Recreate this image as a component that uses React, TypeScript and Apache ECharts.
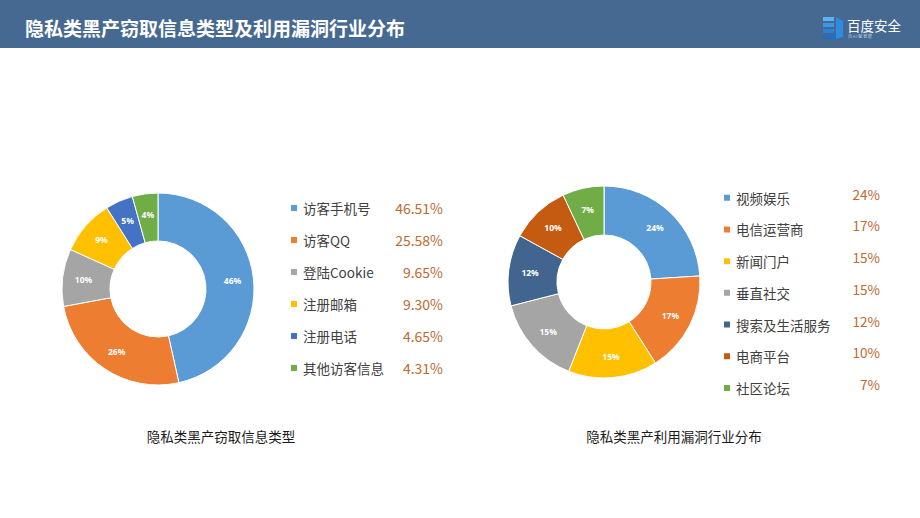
import React, { useEffect, useRef } from "react";
import * as echarts from "echarts";

const pageTitle = "隐私类黑产窃取信息类型及利用漏洞行业分布";

const leftCaption = "隐私类黑产窃取信息类型";
const leftNames = ["访客手机号", "访客QQ", "登陆Cookie", "注册邮箱", "注册电话", "其他访客信息"];
const leftValues = [46.51, 25.58, 9.65, 9.3, 4.65, 4.31];
const leftColors = ["#5b9bd5", "#ed7d31", "#a5a5a5", "#ffc000", "#4472c4", "#70ad47"];

const rightCaption = "隐私类黑产利用漏洞行业分布";
const rightNames = ["视频娱乐", "电信运营商", "新闻门户", "垂直社交", "搜索及生活服务", "电商平台", "社区论坛"];
const rightValues = [24, 17, 15, 15, 12, 10, 7];
const rightColors = ["#5b9bd5", "#ed7d31", "#ffc000", "#a5a5a5", "#41658f", "#c55a11", "#70ad47"];

const FONT = "'Noto Sans CJK SC', 'Noto Sans', sans-serif";

export default function App() {
  const ref = useRef<HTMLDivElement>(null);
  useEffect(() => {
    if (!ref.current) return;
    const chart = echarts.init(ref.current, undefined, { renderer: "svg" });

    const leftMap: Record<string, string> = {};
    leftNames.forEach((n, i) => (leftMap[n] = leftValues[i].toFixed(2) + "%"));
    const rightMap: Record<string, string> = {};
    rightNames.forEach((n, i) => (rightMap[n] = rightValues[i] + "%"));

    const pieLabel = {
      show: true,
      position: "inside",
      formatter: "{d}%",
      color: "#fff",
      fontSize: 8.5,
      fontWeight: "bold",
      fontFamily: "'Noto Sans', sans-serif",
    };

    chart.setOption({
      animation: false,
      backgroundColor: "#fff",
      title: [
        {
          text: pageTitle,
          left: 20,
          top: 13,
          textStyle: { color: "#fff", fontSize: 19, fontWeight: "bold", fontFamily: FONT },
        },
        {
          text: leftCaption,
          left: 216,
          top: 424,
          textAlign: "center",
          textStyle: { color: "#1a1a1a", fontSize: 13.5, fontWeight: "normal", fontFamily: FONT },
        },
        {
          text: rightCaption,
          left: 669,
          top: 424,
          textAlign: "center",
          textStyle: { color: "#1a1a1a", fontSize: 13.5, fontWeight: "normal", fontFamily: FONT },
        },
      ],
      graphic: [
        {
          type: "rect",
          z: -1,
          shape: { x: 0, y: 0, width: 920, height: 48 },
          style: { fill: "#456990" },
        },
        {
          type: "group",
          children: [
            { type: "polygon", shape: { points: [[823, 17], [834, 17], [834, 21], [823, 21]] }, style: { fill: "#5fb0f0" } },
            { type: "polygon", shape: { points: [[823, 23], [834, 23], [834, 27], [823, 27]] }, style: { fill: "#3d97e6" } },
            { type: "polygon", shape: { points: [[823, 29], [834, 29], [834, 33], [823, 33]] }, style: { fill: "#2a82d8" } },
            { type: "polygon", shape: { points: [[823, 35], [836, 35], [836, 39], [823, 39]] }, style: { fill: "#1f6ec4" } },
            { type: "polygon", shape: { points: [[836, 17], [843, 21], [843, 37], [836, 39]] }, style: { fill: "#2d8be0" } },
          ],
        },
        {
          type: "text",
          left: 847,
          top: 18,
          style: { text: "百度安全", fill: "#fff", fontSize: 13.5, fontFamily: FONT },
        },
        {
          type: "text",
          left: 848,
          top: 34,
          style: { text: "百 A I 赋 智 能", fill: "#c8d4e2", fontSize: 4, fontFamily: FONT },
        },
      ],
      legend: [
        {
          orient: "vertical",
          left: 284,
          top: 196,
          itemWidth: 8,
          itemHeight: 8,
          itemGap: 18,
          icon: "rect",
          data: leftNames,
          selectedMode: false,
          formatter: (name: string) => `{n|${name}}{v|${leftMap[name]}}`,
          textStyle: {
            rich: {
              n: { width: 92, fontSize: 13.5, color: "#404040", lineHeight: 16, fontFamily: FONT },
              v: { width: 48, align: "right", fontSize: 14, color: "#c0692f", lineHeight: 16, fontFamily: FONT },
            },
          },
        },
        {
          orient: "vertical",
          left: 717,
          top: 182,
          itemWidth: 8,
          itemHeight: 8,
          itemGap: 10.2,
          icon: "rect",
          data: rightNames,
          selectedMode: false,
          formatter: (name: string) => `{n|${name}}{v|${rightMap[name]}}`,
          textStyle: {
            rich: {
              n: { width: 110, fontSize: 13.5, color: "#404040", lineHeight: 16, fontFamily: FONT },
              v: { width: 34, align: "right", fontSize: 13.5, color: "#c0692f", lineHeight: 16, padding: [0, 0, 8, 0], fontFamily: FONT },
            },
          },
        },
      ],
      series: [
        {
          type: "pie",
          center: [158, 289],
          radius: [48, 96],
          startAngle: 90,
          clockwise: true,
          percentPrecision: 0,
          label: pieLabel,
          labelLine: { show: false },
          itemStyle: { borderColor: "#fff", borderWidth: 1 },
          emphasis: { disabled: true },
          data: leftNames.map((n, i) => ({ name: n, value: leftValues[i], itemStyle: { color: leftColors[i] } })),
        },
        {
          type: "pie",
          center: [604, 282],
          radius: [47, 96],
          startAngle: 90,
          clockwise: true,
          percentPrecision: 0,
          label: pieLabel,
          labelLine: { show: false },
          itemStyle: { borderColor: "#fff", borderWidth: 1 },
          emphasis: { disabled: true },
          data: rightNames.map((n, i) => ({ name: n, value: rightValues[i], itemStyle: { color: rightColors[i] } })),
        },
      ],
    });
    return () => chart.dispose();
  }, []);
  return (
    <div
      ref={ref}
      style={{ position: "absolute", left: 0, top: 0, width: 920, height: 518 }}
    />
  );
}
